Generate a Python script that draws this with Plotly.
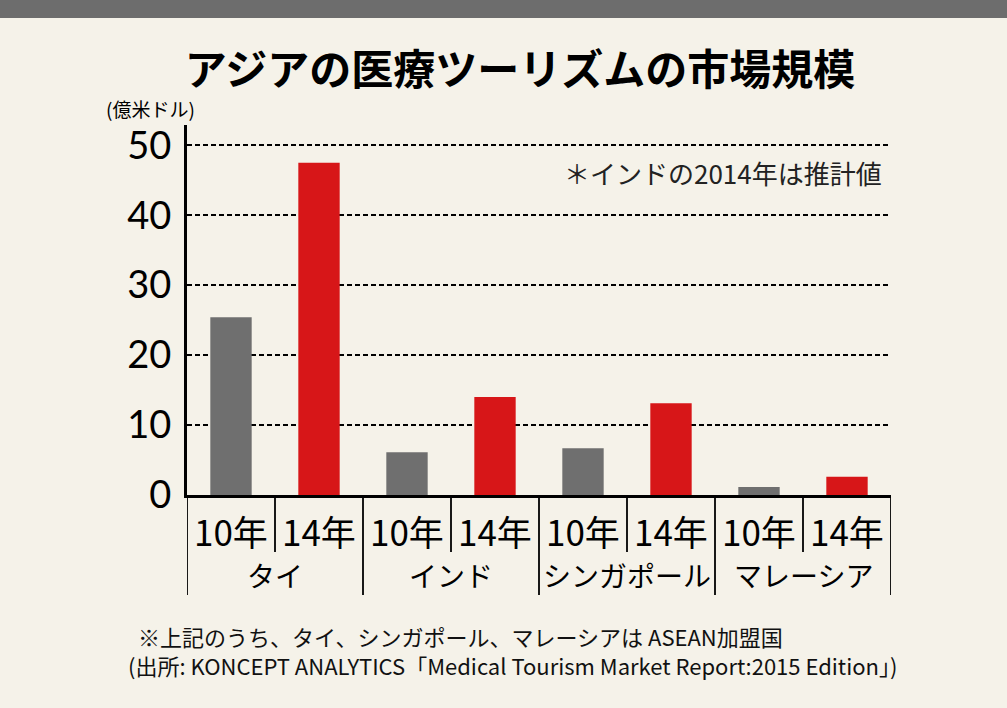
import plotly.graph_objects as go

countries = ["タイ", "インド", "シンガポール", "マレーシア"]
years = ["10年", "14年"]
values_2010 = [25.4, 6.1, 6.7, 1.15]
values_2014 = [47.5, 14.0, 13.1, 2.6]
y_ticks = [0, 10, 20, 30, 40, 50]

GRAY = "#6f6f6f"
RED = "#d71618"
BG = "#f5f2e9"
JP = "Noto Sans CJK JP"

xcats, yvals, colors = [], [], []
for c, a, b in zip(countries, values_2010, values_2014):
    xcats += [c + years[0], c + years[1]]
    yvals += [a, b]
    colors += [GRAY, RED]

fig = go.Figure()
fig.add_trace(go.Bar(x=xcats, y=yvals, marker=dict(color=colors, line=dict(width=0)),
                     width=0.47, hoverinfo="x+y"))

W, H = 1007, 708
L, R, T, B = 187, 116, 125, 213
ph = H - T - B
pw = W - L - R

def py(p):
    return (H - B - p) / ph

def px(p):
    return (p - L) / pw

shapes = [
    dict(type="rect", xref="paper", yref="paper", x0=px(-5), x1=px(W + 5),
         y0=py(18), y1=py(-5), fillcolor="#6d6d6d", line=dict(width=0), layer="above"),
]
n = len(xcats)
for i in range(n + 1):
    xb = i - 0.5
    end = py(595) if i % 2 == 0 else py(552)
    shapes.append(dict(type="line", xref="x", yref="paper", x0=xb, x1=xb, y0=0, y1=end,
                       line=dict(color="black", width=1.8)))

annotations = []
for i, c in enumerate(xcats):
    annotations.append(dict(x=c, y=py(530), xref="x", yref="paper", text=years[i % 2],
                            showarrow=False, font=dict(family=JP, size=35, color="black"),
                            xanchor="center", yanchor="middle"))
for j, c in enumerate(countries):
    annotations.append(dict(x=2 * j + 0.5, y=py(575), xref="x", yref="paper", text=c,
                            showarrow=False, font=dict(family=JP, size=28, color="black"),
                            xanchor="center", yanchor="middle"))
annotations += [
    dict(x=px(104), y=py(108), xref="paper", yref="paper", text="(億米ドル)",
         showarrow=False, xanchor="left", yanchor="middle",
         font=dict(family=JP, size=19, color="black")),
    dict(x=px(884), y=py(172), xref="paper", yref="paper",
         text="＊インドの2014年は推計値", showarrow=False, xanchor="right", yanchor="middle",
         font=dict(family=JP, size=26, color="#222222")),
    dict(x=px(136), y=py(636), xref="paper", yref="paper",
         text="※上記のうち、タイ、シンガポール、マレーシアは ASEAN加盟国", showarrow=False,
         xanchor="left", yanchor="middle", font=dict(family=JP, size=22, color="#111111")),
    dict(x=px(126), y=py(665), xref="paper", yref="paper",
         text="(出所: KONCEPT ANALYTICS「Medical Tourism Market Report:2015 Edition」)",
         showarrow=False, xanchor="left", yanchor="middle",
         font=dict(family=JP, size=22, color="#111111")),
]

fig.update_layout(
    width=W, height=H,
    margin=dict(l=L, r=R, t=T, b=B, pad=0),
    paper_bgcolor=BG, plot_bgcolor=BG,
    showlegend=False,
    title=dict(text="<b>アジアの医療ツーリズムの市場規模</b>", x=520 / W, y=1 - 70 / H,
               xanchor="center", yanchor="middle", xref="container", yref="container",
               font=dict(family=JP, size=42, color="black")),
    xaxis=dict(type="category", range=[-0.5, n - 0.5], showticklabels=False, ticks="",
               showgrid=False, showline=True, linecolor="black", linewidth=3, zeroline=False,
               fixedrange=True),
    yaxis=dict(range=[0, 52.9], tickvals=y_ticks, ticks="", showline=True, linecolor="black",
               linewidth=3, showgrid=True, gridcolor="black", gridwidth=2, griddash="5px,3px",
               zeroline=False, ticklabelstandoff=5,
               tickfont=dict(family="Lato, sans-serif", size=38, color="black")),
    shapes=shapes,
    annotations=annotations,
)

fig.write_html("out.html", config={"displayModeBar": False},
               post_script="document.body.style.margin='0';document.body.style.background='" + BG + "';")
